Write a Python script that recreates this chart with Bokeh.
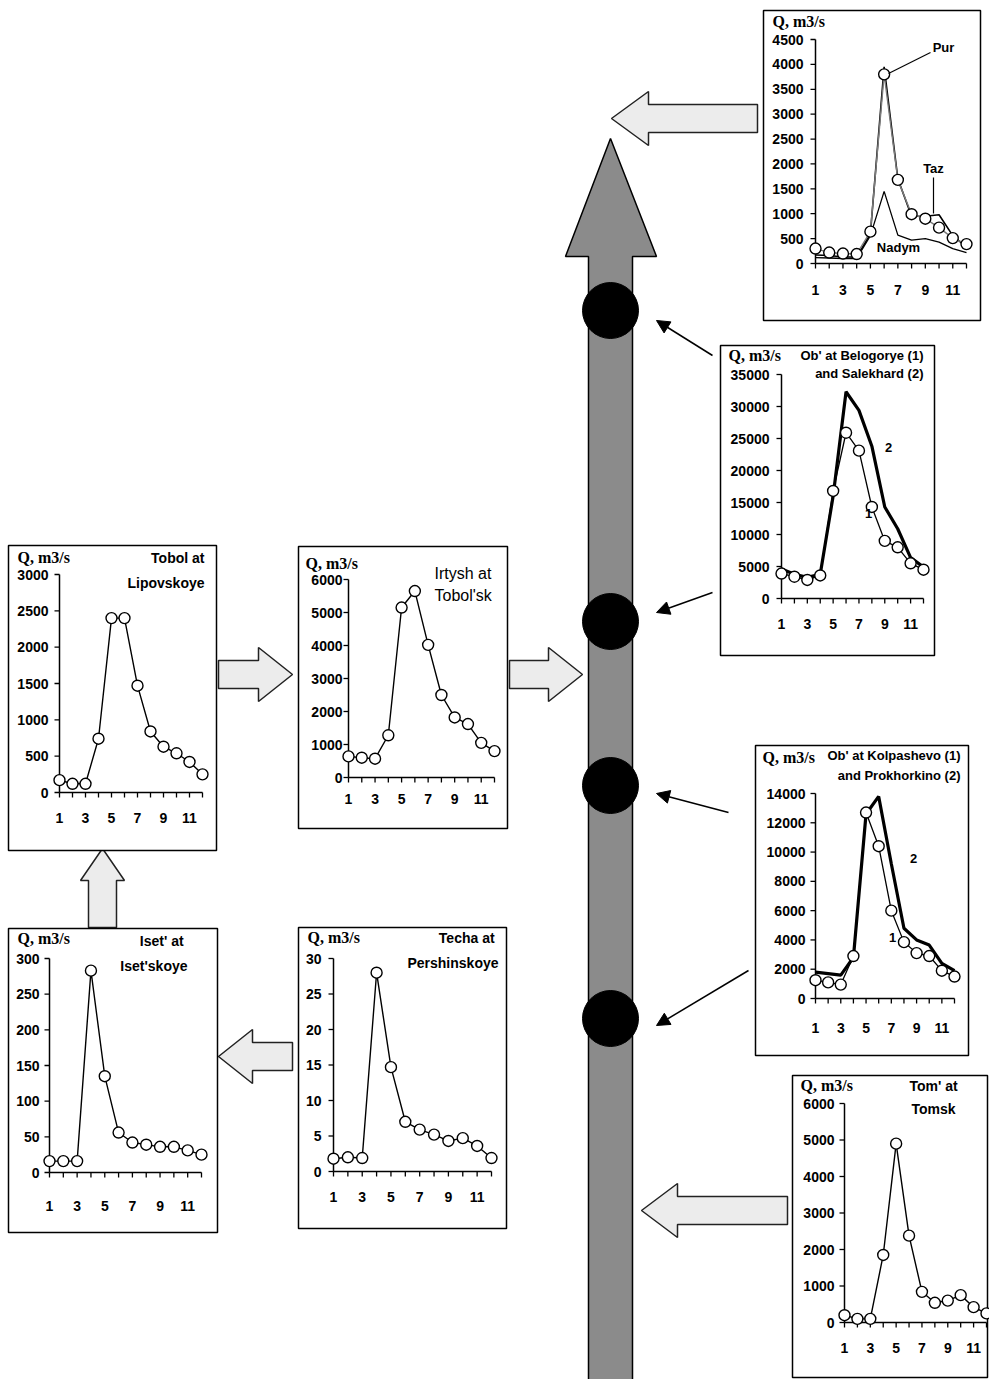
import math
from bokeh.plotting import figure
from bokeh.models import Range1d, Arrow, NormalHead
from bokeh.core.properties import value
from bokeh.embed import file_html
from bokeh.resources import INLINE

# ---------------- data ----------------
months = [1, 2, 3, 4, 5, 6, 7, 8, 9, 10, 11, 12]
month_labels = [1, 3, 5, 7, 9, 11]

pur = [300, 220, 200, 190, 640, 3800, 1680, 990, 900, 720, 510, 390]
taz = [170, 160, 130, 130, 600, 3950, 1700, 950, 950, 980, 560, 330]
nadym = [120, 110, 100, 100, 560, 1450, 570, 470, 500, 430, 300, 220]
ticks_north = [0, 500, 1000, 1500, 2000, 2500, 3000, 3500, 4000, 4500]

ob_belogorye = [3900, 3400, 2900, 3600, 16800, 25900, 23100, 14300, 9000, 8000, 5500, 4500]
ob_salekhard = [4600, 3800, 3300, 3800, 16000, 32300, 29400, 23800, 14300, 10900, 6400, 4900]
ticks_belogorye = [0, 5000, 10000, 15000, 20000, 25000, 30000, 35000]

tobol = [170, 120, 120, 740, 2400, 2400, 1470, 840, 630, 540, 420, 250]
ticks_tobol = [0, 500, 1000, 1500, 2000, 2500, 3000]

irtysh = [640, 600, 570, 1280, 5150, 5650, 4020, 2500, 1820, 1620, 1050, 800]
ticks_irtysh = [0, 1000, 2000, 3000, 4000, 5000, 6000]

ob_kolpashevo = [1250, 1100, 950, 2900, 12700, 10400, 6000, 3850, 3100, 2900, 1900, 1500]
ob_prokhorkino = [1800, 1700, 1600, 2800, 12600, 13800, 9200, 4800, 4000, 3650, 2400, 1900]
ticks_kolpashevo = [0, 2000, 4000, 6000, 8000, 10000, 12000, 14000]

iset = [16, 16, 16, 283, 135, 56, 42, 39, 36, 36, 31, 25]
ticks_iset = [0, 50, 100, 150, 200, 250, 300]

techa = [1.8, 2.0, 1.9, 28.0, 14.7, 7.0, 5.9, 5.2, 4.3, 4.7, 3.6, 1.9]
ticks_techa = [0, 5, 10, 15, 20, 25, 30]

tom = [200, 100, 100, 1850, 4900, 2380, 840, 540, 600, 750, 420, 250]
ticks_tom = [0, 1000, 2000, 3000, 4000, 5000, 6000]

# ---------------- canvas ----------------
W, H = 989, 1379
X0, Y0 = 0, 0  # figure coordinates equal reference pixels
p = figure(width=W, height=H, x_range=Range1d(X0, X0 + W), y_range=Range1d(Y0 + H, Y0),
           output_backend="svg", toolbar_location=None, min_border=0,
           x_axis_location=None, y_axis_location=None)
p.grid.visible = False
p.outline_line_color = None
p.background_fill_color = "white"
p.border_fill_color = "white"

SANS = value("Liberation Sans")
SERIF = value("Liberation Serif")

# ---------------- layout (positions / styles) ----------------
charts = {
    "north": dict(box=(763, 10, 980, 320), m1=815, m12=966, y0=263, ytop=39, ticks=ticks_north, gap=12, xdy=26),
    "bel": dict(box=(720, 345, 934, 655), m1=781, m12=923, y0=598, ytop=374, ticks=ticks_belogorye, gap=12, xdy=25),
    "tobol": dict(box=(8, 545, 216, 850), m1=59, m12=202, y0=792, ytop=574, ticks=ticks_tobol, gap=11, xdy=25),
    "irtysh": dict(box=(298, 546, 507, 828), m1=348, m12=494, y0=777, ytop=579, ticks=ticks_irtysh, gap=6, xdy=21),
    "kolp": dict(box=(755, 745, 968, 1055), m1=815, m12=954, y0=998, ytop=793, ticks=ticks_kolpashevo, gap=10, xdy=29),
    "iset": dict(box=(8, 928, 217, 1232), m1=49, m12=201, y0=1172, ytop=958, ticks=ticks_iset, gap=10, xdy=33),
    "techa": dict(box=(298, 927, 506, 1228), m1=333, m12=491, y0=1171, ytop=958, ticks=ticks_techa, gap=12, xdy=25),
    "tom": dict(box=(792, 1075, 987, 1377), m1=844, m12=986, y0=1322, ytop=1103, ticks=ticks_tom, gap=10, xdy=25),
}

xr, yr = {}, {}
for k, g in charts.items():
    sx = (g["m12"] - g["m1"]) / (months[-1] - months[0])
    xr[k] = Range1d(months[0] - (g["m1"] - X0) / sx, months[0] + (X0 + W - g["m1"]) / sx)
    sy = (g["y0"] - g["ytop"]) / g["ticks"][-1]
    yr[k] = Range1d(-(Y0 + H - g["y0"]) / sy, (g["y0"] - Y0) / sy)
p.extra_x_ranges = xr
p.extra_y_ranges = yr

# ---------------- main river arrow ----------------
p.patch([588, 588, 565, 610, 656, 632, 632], [1400, 256, 256, 138, 256, 256, 1400],
        fill_color="#8b8b8b", line_color="black", line_width=1.5)

# light block arrows
def block_left(tip_x, cy, head_x, end_x, hh=27, sh=14):
    return [tip_x, head_x, head_x, end_x, end_x, head_x, head_x], \
           [cy, cy - hh, cy - sh, cy - sh, cy + sh, cy + sh, cy + hh]

def block_right(tip_x, cy, head_x, start_x, hh=27, sh=14):
    return [tip_x, head_x, head_x, start_x, start_x, head_x, head_x], \
           [cy, cy - hh, cy - sh, cy - sh, cy + sh, cy + sh, cy + hh]

arrows = [
    block_left(611, 118, 648, 757),
    block_right(292, 674, 258, 218),
    block_right(582, 674, 548, 509),
    block_left(218, 1056, 252, 292),
    block_left(641, 1210, 677, 787),
]
for ax, ay in arrows:
    p.patch(ax, ay, fill_color="#ececec", line_color="#222222", line_width=1.5)
# upward block arrow (Iset' -> Tobol)
p.patch([102, 124, 116, 116, 88, 88, 80], [848, 880, 880, 927, 927, 880, 880],
        fill_color="#ececec", line_color="#222222", line_width=1.5)

# gauging stations on main river
p.circle(x=[610, 610, 610, 610], y=[310, 621, 785, 1018], radius=28,
         fill_color="black", line_color="black")

for xs, ys, xe, ye in [(712, 355, 656, 320), (712, 592, 656, 612),
                       (728, 812, 656, 793), (748, 970, 656, 1025)]:
    p.add_layout(Arrow(end=NormalHead(size=13, fill_color="black", line_color="black"),
                       x_start=xs, y_start=ys, x_end=xe, y_end=ye,
                       line_color="black", line_width=1.5))

# ---------------- chart frames & axes ----------------
for k, g in charts.items():
    bx0, by0, bx1, by1 = g["box"]
    p.quad(left=bx0, right=bx1, top=by0, bottom=by1, fill_color="white",
           line_color="black", line_width=1.5)
    t = g["ticks"]
    kw = dict(x_range_name=k, y_range_name=k)
    p.segment(x0=[months[0], months[0]], y0=[t[0], t[0]], x1=[months[0], months[-1]],
              y1=[t[-1], t[0]], line_color="black", line_width=1.5, **kw)
    p.ray(x=[months[0]] * len(t), y=t, length=5, length_units="screen", angle=math.pi,
          line_color="black", line_width=1.3, **kw)
    p.ray(x=months, y=[t[0]] * len(months), length=5, length_units="screen", angle=-math.pi / 2,
          line_color="black", line_width=1.3, **kw)
    p.text(x=[months[0]] * len(t), y=t, text=[str(v) for v in t], x_offset=-g["gap"],
           text_align="right", text_baseline="middle", text_font=SANS,
           text_font_style="bold", text_font_size="14px", text_color="black", **kw)
    p.text(x=month_labels, y=[t[0]] * len(month_labels), text=[str(v) for v in month_labels],
           y_offset=g["xdy"], text_align="center", text_baseline="middle", text_font=SANS,
           text_font_style="bold", text_font_size="14px", text_color="black", **kw)

def series(k, vals, width=1.4, color="black", markers=True):
    kw = dict(x_range_name=k, y_range_name=k)
    p.line(x=months, y=vals, line_color=color, line_width=width, **kw)
    if markers:
        p.scatter(x=months, y=vals, marker="circle", size=11, fill_color="white",
                  line_color="black", line_width=1.4, **kw)

series("north", nadym, width=1.3, markers=False)
series("north", taz, width=1.6, markers=False)
series("north", pur, width=1.4, color="#7a7a7a")
series("bel", ob_salekhard, width=3.2, markers=False)
series("bel", ob_belogorye, width=1.3)
series("tobol", tobol)
series("irtysh", irtysh)
series("kolp", ob_prokhorkino, width=3.2, markers=False)
series("kolp", ob_kolpashevo, width=1.3)
series("iset", iset)
series("techa", techa)
series("tom", tom)

# ---------------- texts ----------------
def txt(x, y, s, align="left", size="13px", font=SANS, style="normal"):
    p.text(x=[x], y=[y], text=[s], text_align=align, text_baseline="middle",
           text_font=font, text_font_size=size, text_font_style=style, text_color="black")

for x, y in [(772, 21), (728, 355), (17, 557), (305, 563), (762, 757), (17, 938), (307, 937), (800, 1085)]:
    txt(x, y, "Q, m3/s", font=SERIF, style="bold", size="16px")

txt(943, 47, "Pur", align="center", size="13px", style="bold")
p.segment(x0=[888, 933], y0=[73, 177], x1=[930, 933], y1=[52, 213], line_color="black", line_width=1.2)
txt(933, 168, "Taz", align="center", size="13px", style="bold")
txt(898, 247, "Nadym", align="center", size="13px", style="bold")

txt(923, 355, "Ob' at Belogorye (1)", align="right", size="13px", style="bold")
txt(923, 373, "and Salekhard (2)", align="right", size="13px", style="bold")
txt(888, 447, "2", align="center", size="13px", style="bold")
txt(868, 513, "1", align="center", size="13px", style="bold")

txt(204, 557, "Tobol at", align="right", size="14px", style="bold")
txt(204, 582, "Lipovskoye", align="right", size="14px", style="bold")

txt(434, 573, "Irtysh at", size="16px")
txt(434, 595, "Tobol'sk", size="16px")

txt(960, 755, "Ob' at Kolpashevo (1)", align="right", size="13px", style="bold")
txt(960, 775, "and Prokhorkino (2)", align="right", size="13px", style="bold")
txt(913, 858, "2", align="center", size="13px", style="bold")
txt(892, 937, "1", align="center", size="13px", style="bold")

txt(187, 940, "Iset'  at", align="right", size="14px", style="bold")
txt(187, 965, "Iset'skoye", align="right", size="14px", style="bold")

txt(498, 937, "Techa  at", align="right", size="14px", style="bold")
txt(498, 962, "Pershinskoye", align="right", size="14px", style="bold")

txt(933, 1085, "Tom' at", align="center", size="14px", style="bold")
txt(933, 1108, "Tomsk", align="center", size="14px", style="bold")

open("out.html", "w").write(file_html(p, INLINE))
